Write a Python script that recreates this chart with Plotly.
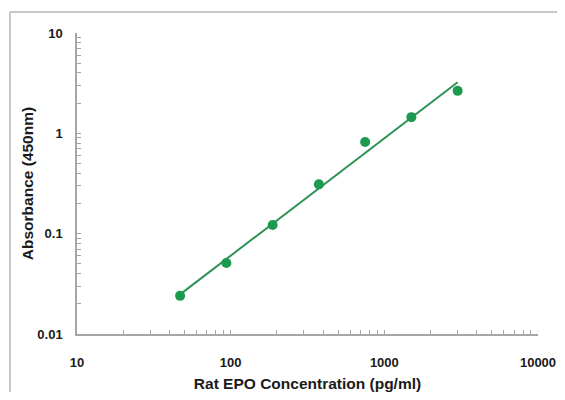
import numpy as np
import plotly.graph_objects as go

# Data
concentration = [46.875, 93.75, 187.5, 375, 750, 1500, 3000]   # pg/ml
absorbance = [0.024, 0.051, 0.122, 0.31, 0.82, 1.45, 2.65]     # OD 450nm

x_title = "Rat EPO Concentration (pg/ml)"
y_title = "Absorbance (450nm)"
x_ticks = [10, 100, 1000, 10000]
x_ticktext = ["10", "100", "1000", "10000"]
y_ticks = [0.01, 0.1, 1, 10]
y_ticktext = ["0.01", "0.1", "1", "10"]

# log-log linear regression for the standard curve
lx = np.log10(concentration)
ly = np.log10(absorbance)
slope, intercept = np.polyfit(lx, ly, 1)
fit_x = [concentration[0], concentration[-1]]
fit_y = [10 ** (intercept + slope * np.log10(v)) for v in fit_x]

FONT = "Liberation Sans, Arial, sans-serif"
TEXT = "#1a1a1a"
AXIS_COLOR = "#a6a6a6"
FRAME = "#c8c8c8"

fig = go.Figure()
fig.add_trace(go.Scatter(x=fit_x, y=fit_y, mode="lines",
                         line=dict(color="#2f9155", width=2),
                         showlegend=False, hoverinfo="skip"))
fig.add_trace(go.Scatter(x=concentration, y=absorbance, mode="markers",
                         marker=dict(color="#1c9a50", size=10),
                         showlegend=False))

axis_common = dict(
    showgrid=False, zeroline=False, showline=True, linecolor=AXIS_COLOR,
    linewidth=1.5, ticks="inside", ticklen=4, tickcolor=AXIS_COLOR,
    automargin=False,
    tickfont=dict(family=FONT, size=13, color=TEXT, weight="bold"),
    minor=dict(ticks="inside", ticklen=4, tickcolor=AXIS_COLOR, dtick="D1"),
)

fig.update_xaxes(type="log", range=[1, 4], tickvals=x_ticks, ticktext=x_ticktext,
                 ticklabelstandoff=16,
                 title=dict(text=x_title, standoff=9,
                            font=dict(family=FONT, size=15.5, color=TEXT, weight="bold")),
                 **axis_common)
fig.update_yaxes(type="log", range=[-2, 1], tickvals=y_ticks, ticktext=y_ticktext,
                 ticklabelstandoff=10,
                 title=dict(text=y_title, standoff=0,
                            font=dict(family=FONT, size=15.5, color=TEXT, weight="bold")),
                 **axis_common)

fig.update_layout(
    width=549, height=384,
    margin=dict(l=69, r=19, t=25, b=58),
    paper_bgcolor="white", plot_bgcolor="white",
    shapes=[
        dict(type="line", xref="paper", yref="paper",
             x0=-0.1453, x1=1.3, y0=1.0698, y1=1.0698,
             line=dict(color=FRAME, width=2), layer="below"),
        dict(type="line", xref="paper", yref="paper",
             x0=-0.1453, x1=-0.1453, y0=-0.5, y1=1.0698,
             line=dict(color=FRAME, width=2), layer="below"),
    ],
)

fig.write_html("out.html")
